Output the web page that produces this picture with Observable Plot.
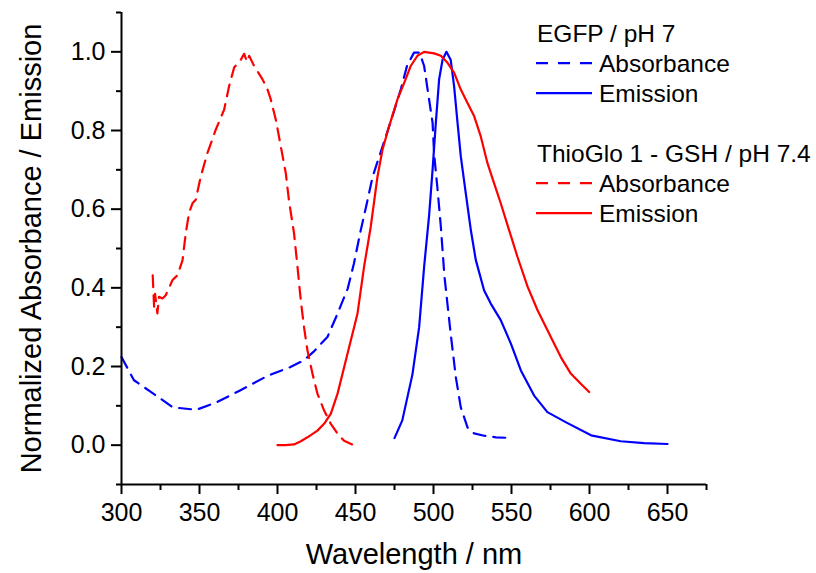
<!DOCTYPE html>
<html>
<head>
<meta charset="utf-8">
<script src="https://cdn.jsdelivr.net/npm/d3@7"></script>
<script src="https://cdn.jsdelivr.net/npm/@observablehq/plot@0.6"></script>
<style>
  html, body { margin: 0; padding: 0; background: #fff; }
  #chart { width: 816px; height: 573px; }
</style>
</head>
<body>
<div id="chart"></div>
<script>
// ---- Data (wavelength in nm, normalized value) ----
const egfpAbsWl = [300, 308, 319, 333, 348, 361, 376, 394, 408, 417, 423, 432, 438, 445, 449, 453, 457, 461, 466, 473, 479, 483, 487.5, 491, 494, 496, 499.4, 500.4, 502.6, 504.7, 507, 511, 514.3, 517.5, 521.8, 526, 532.4, 540, 550];
const egfpAbsVal = [0.224, 0.165, 0.135, 0.096, 0.090, 0.109, 0.139, 0.177, 0.198, 0.216, 0.237, 0.275, 0.330, 0.398, 0.462, 0.540, 0.610, 0.683, 0.743, 0.828, 0.904, 0.964, 0.998, 0.998, 0.964, 0.910, 0.820, 0.740, 0.650, 0.556, 0.430, 0.284, 0.173, 0.096, 0.045, 0.030, 0.024, 0.020, 0.018];

const egfpEmWl = [475, 480, 486.5, 490.8, 494, 497.2, 499.4, 501.5, 503.6, 505.8, 508.3, 511, 513.2, 515.4, 517.5, 520.7, 524, 527.1, 532.4, 536.7, 543.1, 549.6, 556, 564.5, 573, 585, 601, 620, 635, 650];
const egfpEmVal = [0.018, 0.063, 0.180, 0.300, 0.454, 0.585, 0.700, 0.820, 0.930, 0.980, 1.000, 0.980, 0.913, 0.820, 0.734, 0.640, 0.545, 0.471, 0.394, 0.360, 0.318, 0.258, 0.190, 0.126, 0.084, 0.058, 0.025, 0.010, 0.005, 0.003];

const thioAbsWl = [320, 320.9, 321.5, 323, 324, 326.3, 328.4, 332.7, 335.9, 339.1, 341.2, 343.3, 345.5, 347.6, 350.8, 355.1, 360.4, 365.8, 369, 372.2, 376.5, 378.6, 380.5, 381.8, 385, 390.4, 393.6, 395.7, 398.9, 402.1, 405.3, 407.4, 410.6, 412.8, 414.9, 417, 419.2, 422.4, 425.6, 429.9, 434.2, 438.5, 442.7, 449];
const thioAbsVal = [0.432, 0.352, 0.385, 0.335, 0.377, 0.373, 0.381, 0.420, 0.432, 0.470, 0.539, 0.590, 0.615, 0.624, 0.683, 0.743, 0.802, 0.853, 0.913, 0.960, 0.980, 0.995, 0.975, 0.990, 0.964, 0.930, 0.904, 0.879, 0.828, 0.760, 0.692, 0.620, 0.539, 0.454, 0.369, 0.300, 0.241, 0.182, 0.131, 0.088, 0.054, 0.029, 0.011, 0.000];

const thioEmWl = [400, 405, 410.6, 415, 419.2, 425.6, 430, 434.2, 438.5, 444.9, 451.3, 455.5, 459.8, 464.1, 467.3, 471.5, 476.9, 481.2, 485.4, 489.7, 494, 500.4, 504.7, 509, 513.2, 517.5, 521.8, 526.1, 530.3, 534.6, 538.8, 543.1, 547.4, 553.8, 560.3, 566.7, 575.2, 581.6, 588, 594.4, 599.8];
const thioEmVal = [0.000, 0.000, 0.002, 0.010, 0.020, 0.037, 0.055, 0.080, 0.131, 0.233, 0.335, 0.454, 0.556, 0.683, 0.751, 0.810, 0.879, 0.921, 0.964, 0.990, 1.000, 0.996, 0.990, 0.972, 0.947, 0.904, 0.870, 0.836, 0.785, 0.717, 0.666, 0.615, 0.560, 0.479, 0.403, 0.343, 0.275, 0.224, 0.182, 0.156, 0.135];

// ---- Ticks ----
const xTicks = [300, 350, 400, 450, 500, 550, 600, 650];
const xMinor = [325, 375, 425, 475, 525, 575, 625, 675];
const yTicks = [0, 0.2, 0.4, 0.6, 0.8, 1.0];
const yMinor = [-0.1, 0.1, 0.3, 0.5, 0.7, 0.9, 1.1];

// ---- Labels ----
const xLabel = "Wavelength / nm";
const yLabel = "Normalized Absorbance / Emission";
const legendGroups = ["EGFP / pH 7", "ThioGlo 1 - GSH / pH 7.4"];
const legendItems = ["Absorbance", "Emission"];

const toRows = (wl, val) => wl.map((w, i) => ({w, v: val[i]}));
const egfpAbs = toRows(egfpAbsWl, egfpAbsVal);
const egfpEm = toRows(egfpEmWl, egfpEmVal);
const thioAbs = toRows(thioAbsWl, thioAbsVal);
const thioEm = toRows(thioEmWl, thioEmVal);

const BLUE = "#0000ff", RED = "#ff0000";
const DASH = "12,8";
const FONT = "'Liberation Sans', Arial, Helvetica, sans-serif";
const LW = 2.2;

const chart = Plot.plot({
  width: 816,
  height: 573,
  marginLeft: 121,
  marginRight: 110,
  marginTop: 12,
  marginBottom: 89,
  style: {fontFamily: FONT, background: "#fff", color: "#000"},
  x: {domain: [300, 675], label: null},
  y: {domain: [-0.1, 1.1], label: null},
  marks: [
    Plot.line(egfpAbs, {x: "w", y: "v", stroke: BLUE, strokeWidth: LW, strokeDasharray: DASH}),
    Plot.line(egfpEm, {x: "w", y: "v", stroke: BLUE, strokeWidth: LW}),
    Plot.line(thioAbs, {x: "w", y: "v", stroke: RED, strokeWidth: LW, strokeDasharray: DASH}),
    Plot.line(thioEm, {x: "w", y: "v", stroke: RED, strokeWidth: LW}),
    Plot.ruleX([300], {strokeWidth: 2, stroke: "#000"}),
    Plot.ruleY([-0.1], {strokeWidth: 2, stroke: "#000"}),
    Plot.axisX(xTicks, {tickSize: 10, tickPadding: 9, fontSize: 25, strokeWidth: 2, stroke: "#000", fill: "#000", label: null}),
    Plot.axisX(xMinor, {tickSize: 6, tickFormat: () => "", strokeWidth: 2, stroke: "#000", label: null}),
    Plot.axisY(yTicks, {tickSize: 10, tickPadding: 6, fontSize: 25, tickFormat: d3.format(".1f"), strokeWidth: 2, stroke: "#000", fill: "#000", label: null}),
    Plot.axisY(yMinor, {tickSize: 5, tickFormat: () => "", strokeWidth: 2, stroke: "#000", label: null}),
    Plot.text([xLabel], {frameAnchor: "bottom", textAnchor: "middle", dy: 70, fontSize: 29, fill: "#000", lineAnchor: "middle"}),
    Plot.text([yLabel], {frameAnchor: "left", textAnchor: "middle", dx: -90, rotate: -90, fontSize: 29, fill: "#000", lineAnchor: "middle"})
  ]
});

// ---- Legend (drawn into the plot's SVG) ----
const svg = d3.select(chart);
const lg = svg.append("g")
  .attr("font-family", FONT)
  .attr("font-size", 24.5)
  .attr("fill", "#000")
  .attr("text-anchor", "start");
const blocks = [
  {title: legendGroups[0], color: BLUE, y0: 41.7},
  {title: legendGroups[1], color: RED, y0: 161.7}
];
blocks.forEach(b => {
  lg.append("text").attr("x", 537).attr("y", b.y0).attr("text-anchor", "start").text(b.title);
  legendItems.forEach((item, i) => {
    const by = b.y0 + 30 + i * 30;
    lg.append("line")
      .attr("x1", 536).attr("x2", 592)
      .attr("y1", by - 8.5).attr("y2", by - 8.5)
      .attr("stroke", b.color).attr("stroke-width", LW)
      .attr("stroke-dasharray", i === 0 ? "12,10" : null);
    lg.append("text").attr("x", 599).attr("y", by).attr("text-anchor", "start").text(item);
  });
});

document.getElementById("chart").appendChild(chart);
</script>
</body>
</html>
